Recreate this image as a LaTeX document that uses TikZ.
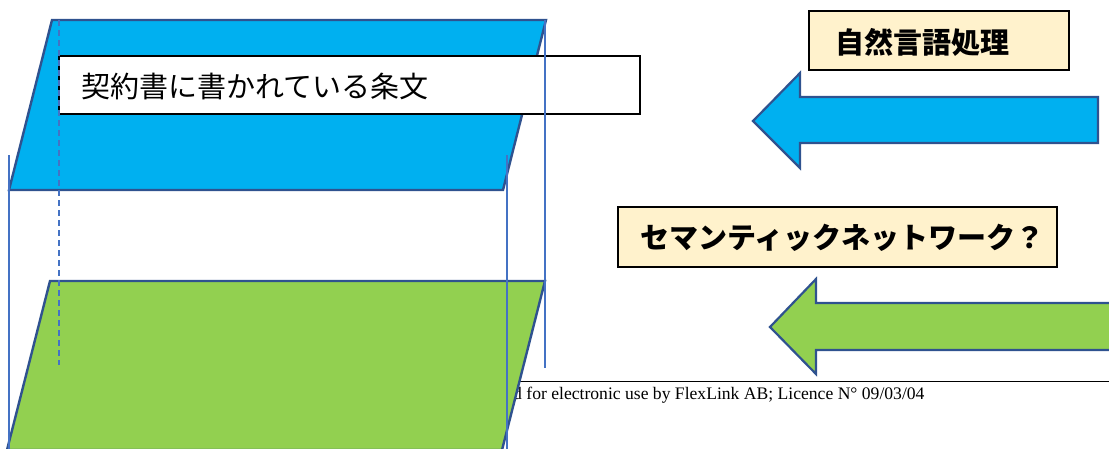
\documentclass[tikz,border=0pt]{standalone}
\usepackage{fontspec}
\setmainfont{Liberation Serif}
\newfontfamily\jp{Noto Sans CJK JP}
\definecolor{skyfill}{HTML}{00B0F0}
\definecolor{grassfill}{HTML}{92D050}
\definecolor{edgeblue}{HTML}{2F528F}
\definecolor{guideblue}{HTML}{4472C4}
\definecolor{notefill}{HTML}{FFF2CC}
\tikzset{
  plane/.style={draw=edgeblue, line width=2.4pt, line join=miter},
  blockarrow/.style={draw=edgeblue, line width=2.2pt, line join=miter},
  guide/.style={draw=guideblue, line width=1.3pt},
  textframe/.style={draw=black, line width=2pt, fill=white},
  noteframe/.style={draw=black, line width=1.6pt, fill=notefill},
  jptext/.style={font=\jp\fontsize{29pt}{32pt}\selectfont, inner sep=0pt, anchor=west},
  jpbold/.style={font=\jp\bfseries\fontsize{29pt}{32pt}\selectfont, inner sep=0pt, anchor=west},
}
\begin{document}
\begin{tikzpicture}[x=1pt,y=-1pt]
\useasboundingbox (0,0) rectangle (1109,448);
\clip (0,0) rectangle (1109,448);
% licence footer (behind green plane)
\coordinate (footL) at (519,381.5);
\coordinate (footR) at (1112,381.5);
\draw[black, line width=1.2pt] (footL) -- (footR);
\node[font=\fontsize{17.6pt}{20pt}\selectfont, inner sep=0pt, anchor=base west] (licence) at (513,399) {d for electronic use by FlexLink AB; Licence N° 09/03/04};
% blue plane
\draw[plane, fill=skyfill] (52,20) -- (546,20) -- (503,190) -- (9,190) -- cycle;
% green plane
\draw[plane, fill=grassfill] (50,281) -- (545,281) -- (502,450) -- (7,450) -- cycle;
% text box
\draw[textframe] (59,56) rectangle (640,114);
\node[jptext] (clause) at (81,86) {契約書に書かれている条文};
% guide lines
\coordinate (g1a) at (9,155);   \coordinate (g1b) at (9,450);
\coordinate (g2a) at (507,155); \coordinate (g2b) at (507,450);
\coordinate (g3a) at (545,20);  \coordinate (g3b) at (545,368);
\coordinate (g4a) at (59,20);   \coordinate (g4b) at (59,365);
\draw[guide] (g1a) -- (g1b);
\draw[guide] (g2a) -- (g2b);
\draw[guide] (g3a) -- (g3b);
\draw[guide, dashed, dash pattern=on 6pt off 4pt, line width=1.6pt] (g4a) -- (g4b);
% blue arrow
\draw[blockarrow, fill=skyfill] (753,121) -- (800,73) -- (800,97) -- (1098,97) -- (1098,143) -- (800,143) -- (800,168) -- cycle;
% green arrow
\draw[blockarrow, fill=grassfill] (770,327) -- (816,279) -- (816,303) -- (1115,303) -- (1115,350) -- (816,350) -- (816,374) -- cycle;
% note labels
\draw[noteframe] (809,11) rectangle (1069,70);
\node[jpbold] (nlp) at (835,42) {自然言語処理};
\draw[noteframe] (618,207) rectangle (1057,267);
\node[jpbold] (semnet) at (640,238) {セマンティックネットワーク？};
\end{tikzpicture}
\end{document}
